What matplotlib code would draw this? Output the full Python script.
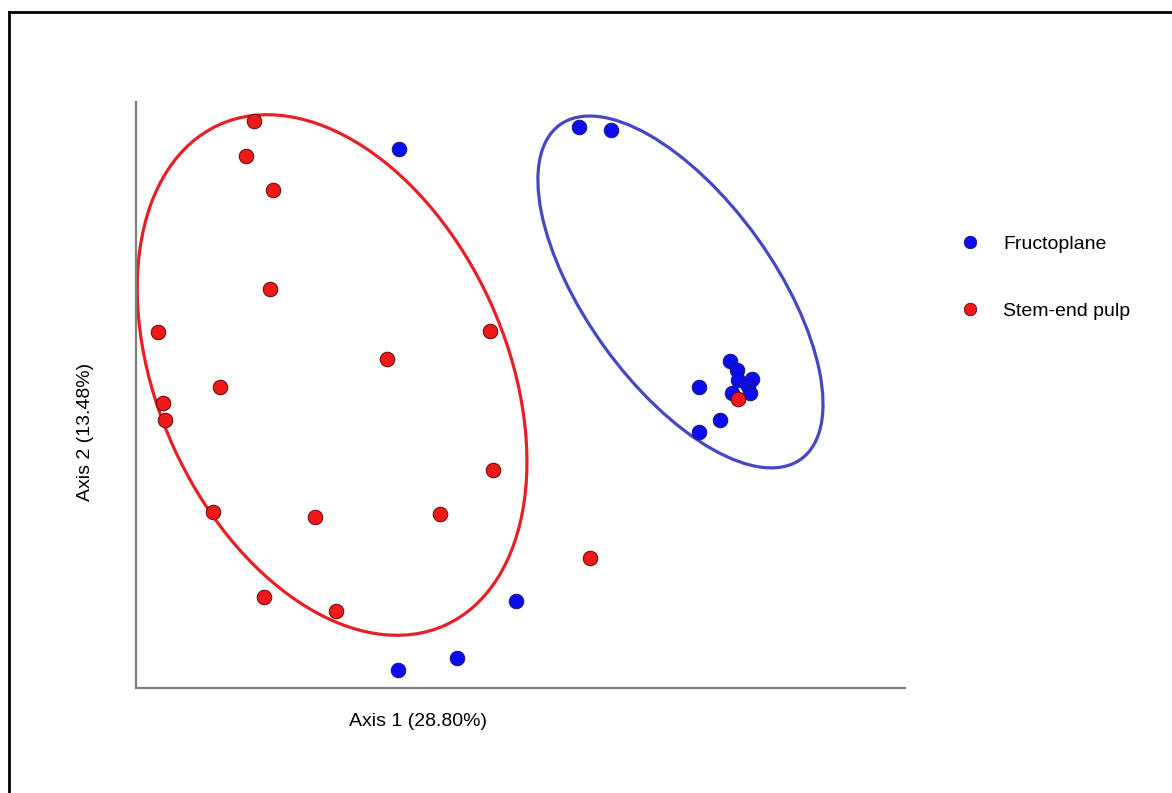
import matplotlib
matplotlib.use("Agg")
import matplotlib.pyplot as plt
from matplotlib.patches import Ellipse
from matplotlib.lines import Line2D

plt.rcParams["font.family"] = ["Liberation Sans", "DejaVu Sans"]

# PCoA coordinates (equal scale on both axes)
fructo_x = [-0.158, 0.076, 0.118, 0.272, 0.281, 0.283, 0.301, 0.296, 0.298,
            0.275, 0.232, 0.259, 0.232, -0.006, -0.083, -0.159]
fructo_y = [0.320, 0.349, 0.345, 0.044, 0.033, 0.020, 0.021, 0.012, 0.002,
            0.003, 0.010, -0.032, -0.048, -0.268, -0.342, -0.358]

pulp_x = [-0.347, -0.357, -0.322, -0.326, -0.471, -0.040, -0.174, -0.391,
          -0.465, -0.462, -0.036, -0.400, -0.267, -0.105, 0.090, -0.334,
          -0.240, 0.283]
pulp_y = [0.356, 0.311, 0.267, 0.138, 0.082, 0.083, 0.047, 0.010, -0.010,
          -0.032, -0.098, -0.152, -0.159, -0.155, -0.212, -0.263, -0.281,
          -0.005]

# ellipses: centre, full width, full height, angle (deg)
pulp_ell = ((-0.245, 0.026), 0.714, 0.453, -65.7)
fructo_ell = ((0.208, 0.134), 0.536, 0.244, -54.2)

labels = ["Fructoplane", "Stem-end pulp"]
blue = "#0b0bf5"
red = "#f01818"

fig = plt.figure(figsize=(11.72, 7.93), dpi=100)
ax = fig.add_axes([136 / 1172, 1 - 688 / 793, 769 / 1172, 586 / 793])

for (c, w, h, a), col in [(pulp_ell, "#e52026"), (fructo_ell, "#4747c4")]:
    ax.add_patch(Ellipse(c, w, h, angle=a, fill=False, edgecolor=col, lw=2.3))

ax.scatter(fructo_x, fructo_y, s=110, color=blue, edgecolor="#1a1a60",
           linewidth=0.7, zorder=3)
ax.scatter(pulp_x, pulp_y, s=110, color=red, edgecolor="#5a0a0a",
           linewidth=0.7, zorder=4)

ax.set_xlim(-0.5, 0.5)
ax.set_ylim(-0.381, 0.381)
ax.set_xticks([])
ax.set_yticks([])
for s in ["top", "right"]:
    ax.spines[s].set_visible(False)
for s in ["left", "bottom"]:
    ax.spines[s].set_color("#7f7f7f")
    ax.spines[s].set_linewidth(1.6)

ax.set_xlabel("Axis 1 (28.80%)", fontsize=14)
ax.xaxis.set_label_coords(0.367, -0.042, transform=ax.transAxes)
ax.set_ylabel("Axis 2 (13.48%)", fontsize=14)
ax.yaxis.set_label_coords(-0.055, 0.437, transform=ax.transAxes)

handles = [Line2D([], [], marker="o", ls="", markersize=9, color=blue,
                  markeredgecolor="#1a1a60", markeredgewidth=0.6),
           Line2D([], [], marker="o", ls="", markersize=9, color=red,
                  markeredgecolor="#5a0a0a", markeredgewidth=0.6)]
fig.legend(handles, labels, loc="upper left",
           bbox_to_anchor=(933 / 1172, 1 - 218 / 793), frameon=False,
           fontsize=14, labelspacing=2.54, handletextpad=0.7)

# figure border (left and top only)
fig.add_artist(Line2D([9 / 1172, 9 / 1172], [0, 1 - 12 / 793],
                      transform=fig.transFigure, color="black", lw=2))
fig.add_artist(Line2D([9 / 1172, 1], [1 - 12 / 793, 1 - 12 / 793],
                      transform=fig.transFigure, color="black", lw=2))

fig.savefig("out.png", dpi=100)
